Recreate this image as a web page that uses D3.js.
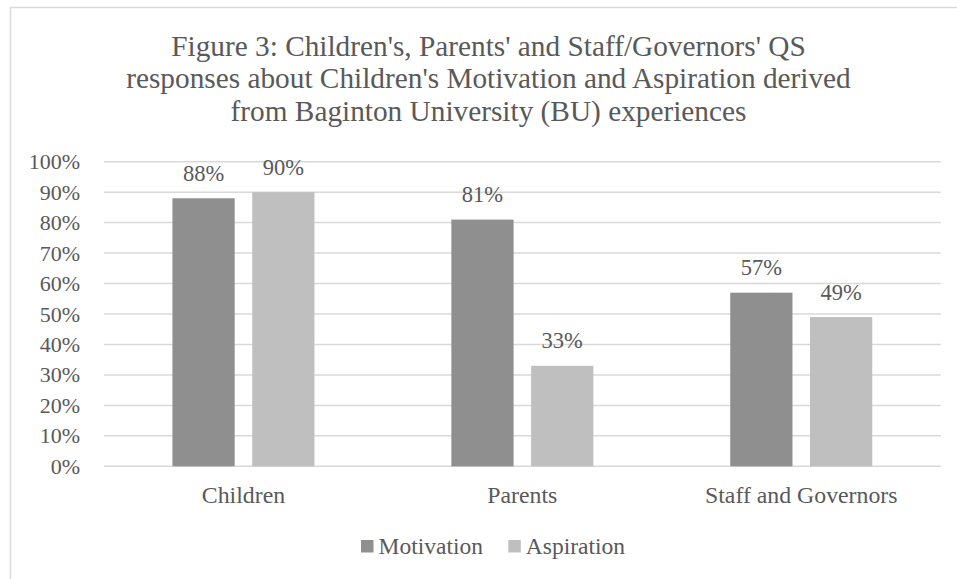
<!DOCTYPE html>
<html>
<head>
<meta charset="utf-8">
<script src="https://cdn.jsdelivr.net/npm/d3@7"></script>
<style>
  html, body { margin: 0; padding: 0; background: #fff; }
  svg { display: block; }
  text { font-family: "Liberation Serif", "Times New Roman", serif; fill: #595959; }
</style>
</head>
<body>
<svg id="chart" width="957" height="579"></svg>
<script>
const titleLines = [
  "Figure 3: Children's, Parents' and Staff/Governors' QS",
  "responses about Children's Motivation and Aspiration derived",
  "from Baginton University (BU) experiences"
];
const categories = ["Children", "Parents", "Staff and Governors"];
const seriesNames = ["Motivation", "Aspiration"];
const motivation = [0.88, 0.81, 0.57];
const aspiration = [0.90, 0.33, 0.49];
const yTicks = [0, 0.1, 0.2, 0.3, 0.4, 0.5, 0.6, 0.7, 0.8, 0.9, 1.0];
const colors = ["#8f8f8f", "#bfbfbf"];

const svg = d3.select("#chart");

// frame
svg.append("rect")
  .attr("x", 10.5).attr("y", 7.5)
  .attr("width", 980).attr("height", 620)
  .attr("fill", "none").attr("stroke", "#d9d9d9").attr("stroke-width", 1.5);

// title
const title = svg.append("text")
  .attr("text-anchor", "middle")
  .style("font-size", "29.3px");
titleLines.forEach((t, i) => {
  title.append("tspan").attr("x", 488.5).attr("y", 56 + i * 32.4).text(t);
});

const plotLeft = 104, plotRight = 940.7, plotTop = 161.7, plotBottom = 466.3;

const y = d3.scaleLinear().domain([0, 1]).range([plotBottom, plotTop]);
const x0 = d3.scaleBand().domain(categories).range([plotLeft, plotRight]).padding(0);
const groupW = 142;
const x1 = d3.scaleBand().domain(seriesNames).range([0, groupW]).paddingInner(0.22);

// gridlines
svg.append("g").selectAll("line").data(yTicks).join("line")
  .attr("x1", plotLeft).attr("x2", plotRight)
  .attr("y1", d => y(d)).attr("y2", d => y(d))
  .attr("stroke", "#d9d9d9").attr("stroke-width", 1.5);

// y axis labels
const yAxis = svg.append("g").attr("transform", `translate(${plotLeft},0)`)
  .call(d3.axisLeft(y).tickValues(yTicks).tickFormat(d3.format(".0%")).tickSize(0).tickPadding(24));
yAxis.select(".domain").remove();
yAxis.selectAll("text")
  .style("font-family", '"Liberation Serif", "Times New Roman", serif')
  .style("font-size", "22px").attr("fill", "#595959");

// bars
const data = categories.map((c, i) => ({ cat: c, vals: [motivation[i], aspiration[i]] }));
const groups = svg.append("g").selectAll("g").data(data).join("g")
  .attr("transform", d => `translate(${x0(d.cat) + x0.bandwidth() / 2 - groupW / 2},0)`);

groups.selectAll("rect").data(d => d.vals.map((v, j) => ({ s: seriesNames[j], v, j }))).join("rect")
  .attr("x", d => x1(d.s))
  .attr("y", d => y(d.v))
  .attr("width", x1.bandwidth())
  .attr("height", d => y(0) - y(d.v))
  .attr("fill", d => colors[d.j]);

groups.selectAll("text.lbl").data(d => d.vals.map((v, j) => ({ s: seriesNames[j], v, j }))).join("text")
  .attr("class", "lbl")
  .attr("x", d => x1(d.s) + x1.bandwidth() / 2)
  .attr("y", d => y(d.v) - 17.5)
  .attr("text-anchor", "middle")
  .style("font-size", "22.5px")
  .text(d => d3.format(".0%")(d.v));

// category axis labels
const xAxis = svg.append("g").attr("transform", `translate(0,${plotBottom})`)
  .call(d3.axisBottom(x0).tickSize(0).tickPadding(20));
xAxis.select(".domain").remove();
xAxis.selectAll("text")
  .style("font-family", '"Liberation Serif", "Times New Roman", serif')
  .style("font-size", "23.8px").attr("fill", "#595959")
  .attr("dy", null).attr("y", 37);

// legend
const legendX = [361, 508.3];
const legend = svg.append("g").selectAll("g").data(seriesNames).join("g")
  .attr("transform", (d, i) => `translate(${legendX[i]},540)`);
legend.append("rect").attr("width", 12.5).attr("height", 12.5).attr("fill", (d, i) => colors[i]);
legend.append("text").attr("x", 17.5).attr("y", 14.3)
  .style("font-size", "23.5px").text(d => d);
</script>
</body>
</html>
